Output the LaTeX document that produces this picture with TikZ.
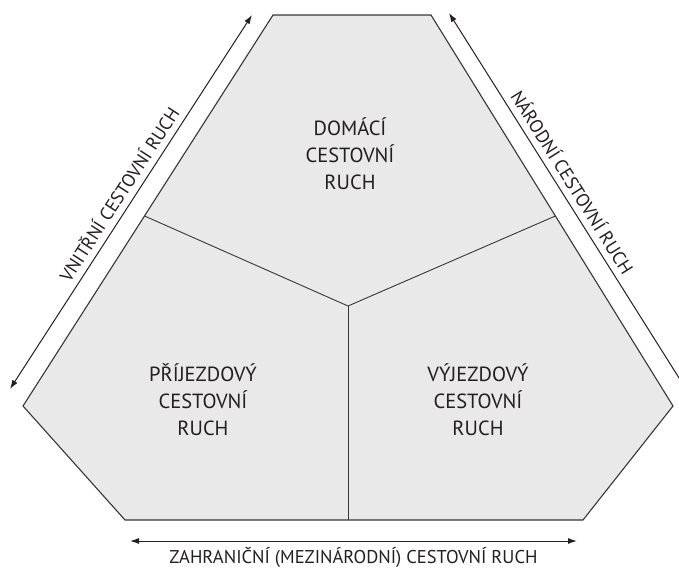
\documentclass[tikz,border=0pt]{standalone}
\usepackage{fontspec}
\setmainfont{PT Sans}
\usetikzlibrary{arrows.meta,calc}
\definecolor{panel}{HTML}{E9E9E9}
\definecolor{ink}{HTML}{231F20}
\begin{document}
\begin{tikzpicture}[x=1pt, y=-1pt, font=\fontsize{20.5}{27}\selectfont,
	area/.style={fill=panel, draw=ink!90, line width=1.1pt, line join=miter},
	divider/.style={draw=ink!90, line width=0.9pt},
	flow/.style={draw=ink, line width=1pt, {Latex[length=9pt,width=6pt]}-{Latex[length=9pt,width=6pt]}},
	sector/.style={align=center, text=ink},
	edgelabel/.style={font=\fontsize{18.5}{21}\selectfont, text=ink}]
	\useasboundingbox (0,0) rectangle (679,571);
	%hexagon
	\coordinate (tl) at (273,15);
	\coordinate (tr) at (431,15);
	\coordinate (r) at (673,406);
	\coordinate (br) at (583,520);
	\coordinate (bl) at (125,520);
	\coordinate (l) at (23,406);
	\draw[area] (tl) -- (tr) -- (r) -- (br) -- (bl) -- (l) -- cycle;
	%dividers
	\coordinate (mid) at (348,306);
	\coordinate (ml) at ($(l)!0.486!(tl)$);
	\coordinate (mr) at ($(r)!0.486!(tr)$);
	\coordinate (mb) at (mid |- bl);
	\draw[divider] (ml) -- (mid) -- (mr);
	\draw[divider] (mid) -- (mb);
	%sectors
	\node[sector] (domestic) at (350,154) {DOMÁCÍ\\CESTOVNÍ\\RUCH};
	\node[sector] (inbound) at (203,400) {PŘÍJEZDOVÝ\\CESTOVNÍ\\RUCH};
	\node[sector] (outbound) at (478,400) {VÝJEZDOVÝ\\CESTOVNÍ\\RUCH};
	%arrows
	\coordinate (left low) at (10,389);
	\coordinate (left high) at (252,15);
	\coordinate (right high) at (449,13);
	\coordinate (right low) at (686,389);
	\coordinate (base left) at (130,541);
	\coordinate (base right) at (577,541);
	\draw[flow] (left low) -- (left high)
	node[edgelabel, sloped, midway, above=3pt] (internal) {VNITŘNÍ CESTOVNÍ RUCH};
	\draw[flow] (right high) -- (right low)
	node[edgelabel, sloped, pos=0.47, above=3pt] (national) {NÁRODNÍ CESTOVNÍ RUCH};
	\draw[flow] (base left) -- (base right)
	node[edgelabel, midway, below=3pt] (international) {ZAHRANIČNÍ (MEZINÁRODNÍ) CESTOVNÍ RUCH};
\end{tikzpicture}
\end{document}
